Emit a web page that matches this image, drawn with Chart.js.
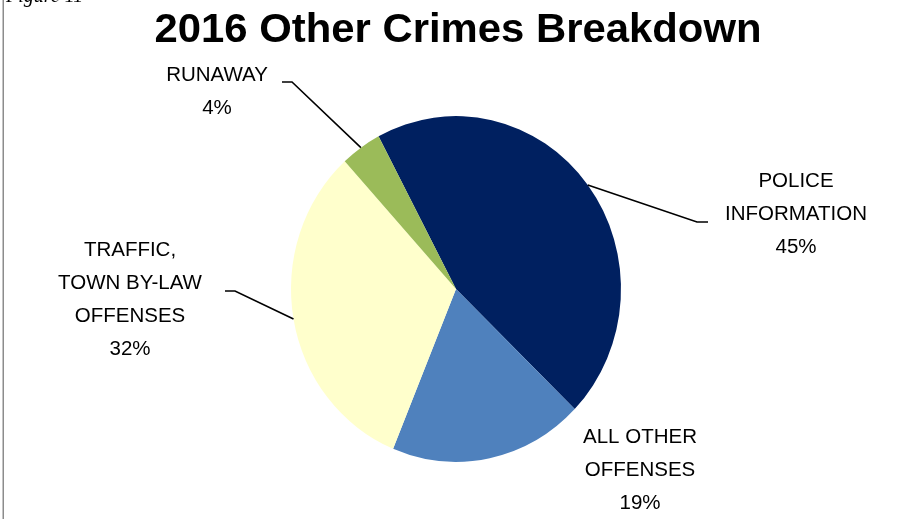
<!DOCTYPE html>
<html>
<head>
<meta charset="utf-8">
<script src="https://cdn.jsdelivr.net/npm/chart.js@4.4.1/dist/chart.umd.min.js"></script>
<style>
  html, body { margin: 0; padding: 0; background: #fff; }
  #wrap { position: relative; width: 904px; height: 519px; }
</style>
</head>
<body>
<div id="wrap"><canvas id="crimesChart" width="904" height="519"></canvas></div>
<script>
// 2016 other crimes, share of total (%)
const categories = ['POLICE INFORMATION', 'ALL OTHER OFFENSES', 'TRAFFIC, TOWN BY-LAW OFFENSES', 'RUNAWAY'];
const shares = [45, 19, 32, 4];
const sliceColors = ['#002060', '#4f81bd', '#ffffcc', '#9bbb59'];
// how each category name wraps in its label
const labelLines = [
  ['POLICE', 'INFORMATION'],
  ['ALL OTHER', 'OFFENSES'],
  ['TRAFFIC,', 'TOWN BY-LAW', 'OFFENSES'],
  ['RUNAWAY']
];
const chartTitle = '2016 Other Crimes Breakdown';

// label placement: centre x, first line y, elbow of leader line (null = no line), tail end x
const labelLayout = [
  { x: 796, y: 181, elbow: [697, 222], tail: 708 },
  { x: 640, y: 437, elbow: null },
  { x: 130, y: 250, elbow: [235, 291], tail: 225 },
  { x: 217, y: 75, elbow: [292, 82], tail: 282 }
];
const lineGap = 33;
const stretchY = 1.048; // pie is drawn slightly taller than wide

const pieStretch = {
  id: 'pieStretch',
  beforeDatasetsDraw(chart) {
    const arc = chart.getDatasetMeta(0).data[0];
    const ctx = chart.ctx;
    ctx.save();
    ctx.translate(arc.x, arc.y);
    ctx.scale(1, stretchY);
    ctx.translate(-arc.x, -arc.y);
  },
  afterDatasetsDraw(chart) {
    chart.ctx.restore();
  }
};

const decorations = {
  id: 'decorations',
  beforeDraw(chart) {
    const ctx = chart.ctx;
    ctx.save();
    ctx.fillStyle = '#fff';
    ctx.fillRect(0, 0, chart.width, chart.height);
    ctx.restore();
  },
  afterDraw(chart) {
    const ctx = chart.ctx;
    ctx.save();

    // frame edge on the left and the figure caption cut off above
    ctx.strokeStyle = '#8c8c8c';
    ctx.lineWidth = 1.5;
    ctx.beginPath();
    ctx.moveTo(3.25, 0);
    ctx.lineTo(3.25, chart.height);
    ctx.stroke();
    ctx.fillStyle = '#000';
    ctx.font = 'italic 20px "Liberation Serif"';
    ctx.textAlign = 'left';
    ctx.textBaseline = 'alphabetic';
    ctx.fillText('Figure 11', 6, 2);

    // title, squeezed to the narrow bold face width
    ctx.font = 'bold 41px "Liberation Sans"';
    const tw = ctx.measureText(chartTitle).width;
    ctx.save();
    ctx.translate(458, 42);
    ctx.scale(607 / tw, 1);
    ctx.textAlign = 'center';
    ctx.fillText(chartTitle, 0, 0);
    ctx.restore();

    // slice labels with leader lines
    const meta = chart.getDatasetMeta(0);
    ctx.font = '20.5px "Liberation Sans"';
    ctx.textAlign = 'center';
    ctx.textBaseline = 'middle';
    ctx.strokeStyle = '#000';
    ctx.lineWidth = 1.6;
    meta.data.forEach((arc, i) => {
      const pos = labelLayout[i];
      const lines = labelLines[i].concat([shares[i] + '%']);
      lines.forEach((t, k) => ctx.fillText(t, pos.x, pos.y + k * lineGap));
      if (pos.elbow) {
        const mid = (arc.startAngle + arc.endAngle) / 2;
        const ex = arc.x + Math.cos(mid) * arc.outerRadius;
        const ey = arc.y + Math.sin(mid) * arc.outerRadius * stretchY;
        ctx.beginPath();
        ctx.moveTo(pos.tail, pos.elbow[1]);
        ctx.lineTo(pos.elbow[0], pos.elbow[1]);
        ctx.lineTo(ex, ey);
        ctx.stroke();
      }
    });
    ctx.restore();
  }
};

new Chart(document.getElementById('crimesChart'), {
  type: 'pie',
  data: {
    labels: categories,
    datasets: [{
      data: shares,
      backgroundColor: sliceColors,
      borderWidth: 0,
      clip: false
    }]
  },
  options: {
    responsive: false,
    animation: false,
    rotation: -28,
    layout: { padding: { left: 291, right: 283, top: 124, bottom: 65 } },
    plugins: {
      legend: { display: false },
      tooltip: { enabled: false }
    }
  },
  plugins: [pieStretch, decorations]
});
</script>
</body>
</html>
